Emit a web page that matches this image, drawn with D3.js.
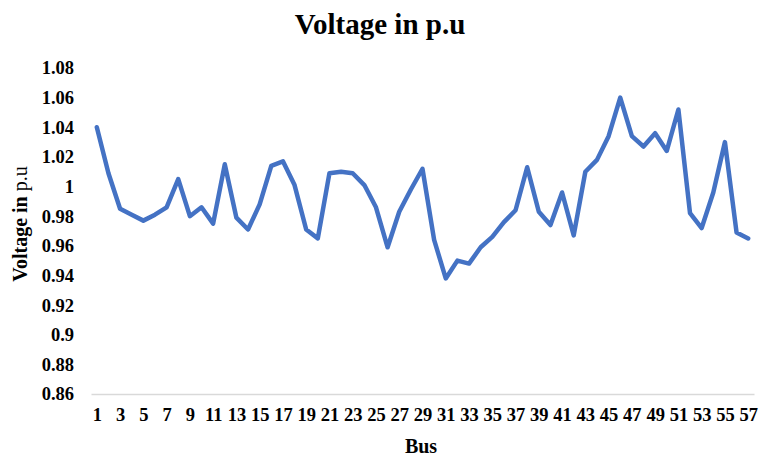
<!DOCTYPE html>
<html><head><meta charset="utf-8">
<script src="https://cdn.jsdelivr.net/npm/d3@7"></script>
<style>body{margin:0;background:#fff}svg{display:block}</style>
</head><body>
<svg id="c" width="761" height="458"></svg>
<script>
const buses = d3.range(1, 58);
const voltage = [1.040,1.009,0.985,0.981,0.977,0.981,0.986,1.005,0.980,0.986,0.975,1.015,0.979,0.971,0.988,1.014,1.017,1.001,0.971,0.965,1.009,1.010,1.009,1.001,0.986,0.959,0.983,0.998,1.012,0.964,0.938,0.950,0.948,0.959,0.966,0.976,0.984,1.013,0.983,0.974,0.996,0.967,1.010,1.018,1.034,1.060,1.034,1.027,1.036,1.024,1.052,0.982,0.972,0.996,1.030,0.969,0.965];
const yTicks = [0.86,0.88,0.9,0.92,0.94,0.96,0.98,1,1.02,1.04,1.06,1.08];
const xTickLabels = buses.filter(b => b % 2 === 1);
const title = "Voltage in p.u";
const xTitle = "Bus";

const svg = d3.select("#c");
const font = "'Liberation Serif','Times New Roman',serif";
const x = d3.scalePoint().domain(buses).range([91, 754]).padding(0.5);
const y = d3.scaleLinear().domain([0.86, 1.08]).range([394, 68]);

svg.append("text").attr("x", 380).attr("y", 34).attr("text-anchor", "middle")
  .attr("font-family", font).attr("font-weight", "bold").attr("font-size", 29).attr("fill", "#000").text(title);

// y axis labels
const ya = svg.append("g").attr("transform", "translate(74,0)")
  .call(d3.axisLeft(y).tickValues(yTicks).tickSize(0).tickPadding(0).tickFormat(d => d3.format("")(+d.toFixed(2))));
ya.select(".domain").remove();
ya.selectAll("text").attr("font-family", font).attr("font-weight", "bold").attr("font-size", 18.5).attr("fill", "#000");

// x axis
const xa = svg.append("g").attr("transform", "translate(0,394)")
  .call(d3.axisBottom(x).tickValues(xTickLabels).tickSize(0).tickPadding(14));
xa.select(".domain").attr("stroke", "#d9d9d9").attr("stroke-width", 1.5);
xa.selectAll("text").attr("font-family", font).attr("font-weight", "bold").attr("font-size", 18.5).attr("fill", "#000");

svg.append("text").attr("x", 421).attr("y", 453).attr("text-anchor", "middle")
  .attr("font-family", font).attr("font-weight", "bold").attr("font-size", 20).attr("fill", "#000").text(xTitle);

const yt = svg.append("text").attr("transform", "translate(27,224) rotate(-90)").attr("text-anchor", "middle")
  .attr("font-family", font).attr("font-size", 20).attr("fill", "#000");
yt.append("tspan").attr("font-weight", "bold").text("Voltage in ");
yt.append("tspan").text("p.u");

const line = d3.line().x((d, i) => x(buses[i])).y(d => y(d));
svg.append("path").datum(voltage).attr("d", line).attr("fill", "none")
  .attr("stroke", "#4472C4").attr("stroke-width", 4.5).attr("stroke-linejoin", "round").attr("stroke-linecap", "round");
</script>
</body></html>
